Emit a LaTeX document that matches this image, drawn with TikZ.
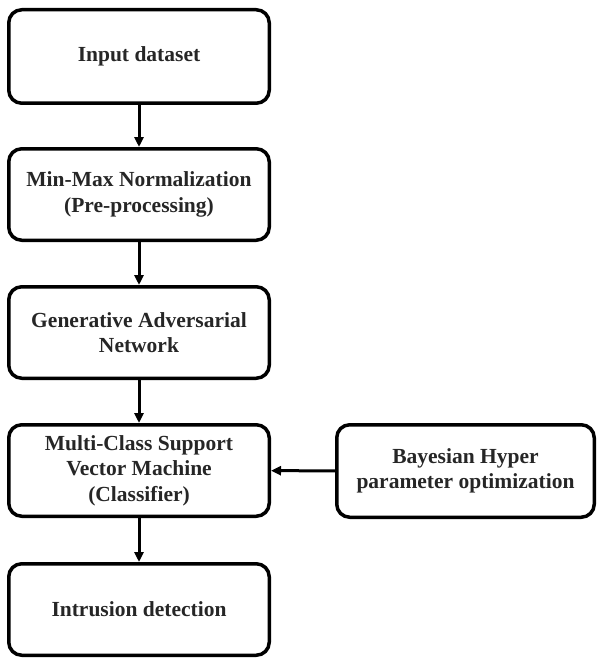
\documentclass[tikz,border=0pt]{standalone}
\usepackage{fontspec}
\setmainfont{Liberation Serif}
\usetikzlibrary{arrows.meta}
\begin{document}
\begin{tikzpicture}[x=1pt,y=-1pt,
  box/.style={draw=black, line width=3.5pt, rounded corners=13pt, align=center,
    minimum width=260.5pt, minimum height=91.5pt, inner sep=0pt,
    font=\fontsize{21.5}{25.5}\selectfont\bfseries, text=black!85},
  conn/.style={line width=3pt, -{Triangle[length=10pt,width=9pt]}}]
\useasboundingbox (0,0) rectangle (597,658);
\node[box, minimum height=93.5pt] (n1) at (139,56.5) {Input dataset};
\node[box] (n2) at (139,194.5) {Min-Max Normalization\\(Pre-processing)};
\node[box] (n3) at (139,332.5) {Generative Adversarial\\Network};
\node[box] (n4) at (139,470.5) {Multi-Class Support\\Vector Machine\\(Classifier)};
\node[box] (n5) at (139,609.5) {Intrusion detection};
\node[box, minimum width=257.5pt, minimum height=92.5pt] (n6) at (465.5,471) {Bayesian Hyper\\parameter optimization};
\draw[conn] (n1) -- (n2);
\draw[conn] (n2) -- (n3);
\draw[conn] (n3) -- (n4);
\draw[conn] (n4) -- (n5);
\draw[conn] (n6) -- (n4);
\end{tikzpicture}
\end{document}
